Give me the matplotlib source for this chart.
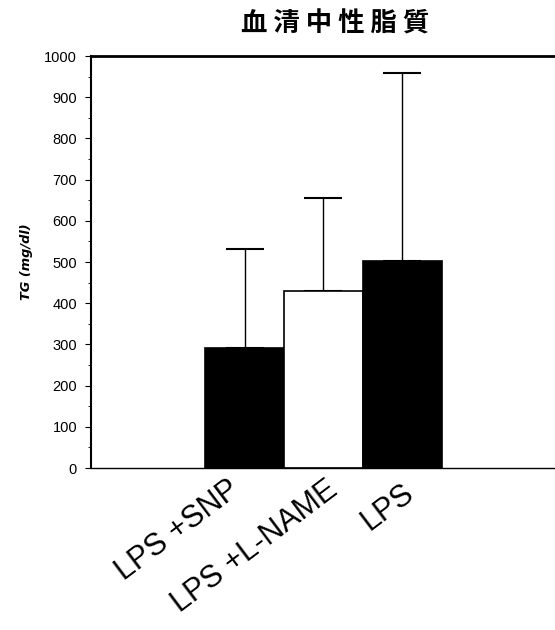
import matplotlib
matplotlib.use("Agg")
import matplotlib.pyplot as plt

# データ
群 = ["LPS +SNP", "LPS +L-NAME", "LPS"]
平均 = [291, 430, 502]
上限 = [532, 655, 959]
色 = ["black", "white", "black"]

誤差 = [u - m for u, m in zip(上限, 平均)]
x = list(range(len(群)))

fig = plt.figure(figsize=(5.55, 6.3), dpi=100)
ax = fig.add_axes([91 / 555, 1 - 468 / 630, 464 / 555, 412 / 630])

ax.bar(x, 平均, width=1.0, color=色, edgecolor="black", linewidth=1.2, zorder=2)
ax.errorbar(x, 平均, yerr=[[0] * 3, 誤差], fmt="none", ecolor="black",
            elinewidth=1.0, capsize=14, capthick=1.5, zorder=1)

ax.set_xlim(-1.95, 3.94)
ax.set_ylim(0, 1000)
ax.set_yticks(range(0, 1001, 100))
ax.set_yticks(range(50, 1000, 100), minor=True)
ax.tick_params(axis="y", which="major", direction="out", length=4, labelsize=10.5, pad=6)
ax.tick_params(axis="y", which="minor", direction="out", length=2)
for t in ax.get_yticklabels():
    t.set_family("Liberation Sans")
ax.set_xticks([])

ax.spines["right"].set_visible(False)
ax.spines["top"].set_linewidth(2)
ax.spines["left"].set_linewidth(1.5)
ax.spines["bottom"].set_linewidth(1)

ax.set_ylabel("TG (mg/dl)", fontsize=9.3, fontweight="bold", fontstyle="italic", labelpad=8)

# 斜めのラベル
dx = [-0.22, 0.03, 0.0]
dy = [-16, -16, -24]
for i, name in enumerate(群):
    ax.text(i + dx[i], dy[i], name, rotation=37, ha="right", va="top",
            rotation_mode="anchor", fontsize=22, family="Liberation Sans")

fig.text(335 / 555, 1 - 24 / 630, "血 清 中 性 脂 質", ha="center", va="center",
         fontsize=19, fontweight="bold", family=["Noto Sans CJK JP", "DejaVu Sans"])

fig.savefig("out.png", dpi=100)
